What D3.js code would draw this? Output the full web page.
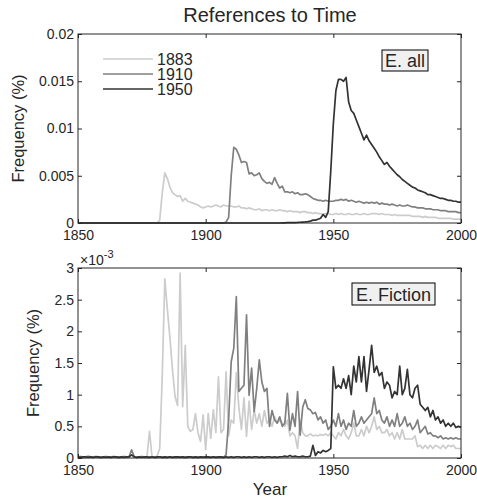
<!DOCTYPE html>
<html>
<head>
<meta charset="utf-8">
<script src="https://cdn.jsdelivr.net/npm/d3@7"></script>
<style>
  body { margin: 0; background: #fff; }
  text { font-family: "Liberation Sans", Arial, Helvetica, sans-serif; fill: #262626; }
</style>
</head>
<body>
<svg id="chart" width="477" height="499"></svg>
<script>
// years on the x axis, one value per year (1850 .. 2000)
var years = d3.range(1850, 2001);
var seriesNames = ["1883", "1910", "1950"];

// English (all), values in units of 1e-3 %
var allS1883 = [
  0,0,0,0,0,0,0,0,0,0, 0,0,0,0,0,0,0,0,0,0, 0,0,0,0,0,0,0,0,0,0, 0,0,
  0.3,3.2,5.3,4.7,3.8,3.2,3.0,2.8,2.9,2.3,2.6,2.3,2.2,2.1,2.0,1.9,1.7,1.6,
  1.7,1.8,1.7,1.8,1.9,1.8,1.7,1.9,1.8,1.8,
  1.8,1.7,1.7,1.8,1.6,1.6,1.5,1.6,1.5,1.4,
  1.4,1.5,1.3,1.4,1.4,1.3,1.4,1.3,1.3,1.4,
  1.3,1.3,1.2,1.3,1.2,1.2,1.2,1.1,1.2,1.2,
  1.1,1.1,1.0,1.1,1.0,1.0,0.9,1.0,1.0,0.9,
  0.9,1.0,0.9,1.0,0.9,0.9,1.0,0.9,0.9,1.0,
  0.9,0.9,1.0,0.9,0.9,1.0,1.0,1.0,0.9,1.0,
  0.9,0.9,0.9,0.8,0.9,0.8,0.8,0.8,0.8,0.8,
  0.8,0.7,0.7,0.7,0.7,0.6,0.7,0.6,0.6,0.6,
  0.6,0.5,0.5,0.5,0.5,0.5,0.5,0.4,0.4,0.4,
  0.4];
var allS1910 = [
  0,0,0,0,0,0,0,0,0,0, 0,0,0,0,0,0,0,0,0,0, 0,0,0,0,0,0,0,0,0,0,
  0,0,0,0,0,0,0,0,0,0, 0,0,0,0,0,0,0,0,0,0, 0,0,0,0,0,0,0,0,
  0.1,0.6,
  5.0,8.0,7.8,7.2,6.4,6.5,6.4,5.2,5.3,5.0,
  5.1,5.3,4.7,4.4,4.2,4.3,4.1,4.8,4.2,3.7,
  3.9,3.3,3.3,3.2,3.3,3.1,3.2,3.0,3.0,3.1,
  3.0,2.8,2.6,2.5,2.4,2.4,2.3,2.4,2.3,2.3,
  2.3,2.4,2.4,2.5,2.4,2.5,2.3,2.4,2.3,2.2,
  2.3,2.2,2.1,2.2,2.1,2.2,2.1,2.2,2.0,2.1,
  2.0,2.0,1.9,2.0,1.9,1.8,1.9,1.8,1.8,1.9,
  1.8,1.7,1.7,1.6,1.6,1.6,1.5,1.5,1.5,1.4,
  1.4,1.4,1.3,1.3,1.3,1.2,1.2,1.2,1.2,1.1,
  1.1];
var allS1950 = [
  0,0,0,0,0,0,0,0,0,0, 0,0,0,0,0,0,0,0,0,0, 0,0,0,0,0,0,0,0,0,0, 0,0,0,0,0,0,0,0,0,0,
  0,0,0,0,0,0,0,0,0,0, 0,0,0,0,0,0,0,0,0,0, 0,0,0,0,0,0,0,0,0,0, 0,0,0,0,0,0,0,0,0,0,
  0.02,0.02,0.03,0.03,0.04,0.05,0.06,0.08,0.1,0.12,
  0.15,0.2,0.3,0.3,0.4,0.5,0.9,0.6,1.2,5.5,
  10.5,14.0,15.2,15.2,15.0,15.4,12.8,11.9,11.6,10.9,
  10.2,9.5,8.8,9.3,8.7,8.3,7.9,7.5,7.0,6.6,
  6.2,6.4,6.0,5.7,5.4,5.1,4.9,4.6,4.4,4.2,
  4.0,3.8,3.7,3.5,3.4,3.3,3.2,3.0,3.0,2.9,
  2.8,2.7,2.6,2.6,2.5,2.4,2.4,2.3,2.3,2.2,
  2.2];

// English fiction, values in units of 1e-3 %
var ficS1883 = [
  0.02,0.03,0.01,0.02,0.04,0.02,0.01,0.03,0.02,0.01,
  0.02,0.03,0.01,0.02,0.03,0.02,0.01,0.02,0.03,0.02,
  0.02,0.05,0.02,0.01,0.02,0.03,0.01,0.02,0.42,0.02,
  0.01,0.03,0.15,1.3,2.83,2.35,1.9,1.4,0.97,0.83,
  2.92,0.81,1.78,0.5,0.42,0.45,0.7,0.4,0.26,0.68,
  0.13,0.7,0.31,0.76,0.4,1.28,0.4,0.45,1.36,0.35,
  0.6,0.55,1.35,0.8,0.45,0.95,0.34,0.9,0.45,0.75,
  0.55,0.7,0.5,0.75,0.55,0.6,0.5,0.65,0.55,0.6,
  0.55,0.5,0.6,0.35,0.4,0.35,0.15,0.6,0.4,0.35,
  0.35,0.38,0.35,0.36,0.35,0.37,0.36,0.38,0.35,0.4,
  0.35,0.3,0.4,0.35,0.45,0.35,0.3,0.4,0.55,0.35,
  0.35,0.45,0.35,0.5,0.4,0.5,0.65,0.45,0.5,0.4,
  0.4,0.45,0.35,0.4,0.3,0.4,0.3,0.45,0.3,0.3,
  0.3,0.3,0.35,0.18,0.2,0.15,0.2,0.15,0.2,0.15,
  0.2,0.18,0.15,0.2,0.15,0.2,0.18,0.2,0.15,0.15,
  0.15];
var ficS1910 = [
  0.01,0.02,0.01,0.01,0.02,0.01,0.01,0.02,0.01,0.01,
  0.01,0.02,0.01,0.01,0.02,0.01,0.01,0.01,0.02,0.01,
  0.02,0.13,0.02,0.01,0.01,0.02,0.01,0.01,0.01,0.02,
  0.01,0.01,0.02,0.01,0.01,0.01,0.02,0.01,0.01,0.01,
  0.02,0.01,0.01,0.01,0.02,0.01,0.01,0.01,0.01,0.02,
  0.01,0.01,0.01,0.02,0.01,0.01,0.01,0.01,0.05,0.6,
  1.52,1.73,2.55,1.05,1.1,1.15,2.26,0.99,1.42,0.73,
  1.1,1.55,1.2,1.05,1.1,0.5,0.75,0.6,0.55,0.65,
  0.5,0.55,1.02,0.44,0.7,0.5,1.05,0.36,0.8,0.92,
  0.78,0.76,0.7,0.72,0.6,0.65,0.55,0.6,0.45,0.5,
  0.6,0.5,0.7,0.5,0.6,0.45,0.55,0.5,0.75,0.5,
  0.55,0.65,0.55,0.6,0.65,0.7,0.95,0.7,0.75,0.6,
  0.55,0.65,0.5,0.6,0.5,0.7,0.5,0.55,0.65,0.5,
  0.55,0.45,0.5,0.6,0.4,0.45,0.5,0.38,0.4,0.35,
  0.35,0.32,0.35,0.3,0.32,0.3,0.32,0.3,0.32,0.3,
  0.3];
var ficS1950 = [
  0.02,0.01,0.02,0.02,0.01,0.02,0.01,0.02,0.02,0.01,
  0.02,0.01,0.02,0.01,0.02,0.02,0.01,0.02,0.01,0.02,
  0.02,0.05,0.02,0.01,0.02,0.01,0.02,0.02,0.01,0.02,
  0.01,0.02,0.02,0.01,0.02,0.01,0.02,0.01,0.02,0.02,
  0.01,0.02,0.01,0.02,0.02,0.01,0.02,0.01,0.02,0.01,
  0.02,0.02,0.01,0.02,0.01,0.02,0.02,0.01,0.02,0.01,
  0.02,0.01,0.02,0.02,0.01,0.02,0.01,0.02,0.01,0.02,
  0.02,0.01,0.02,0.01,0.02,0.02,0.01,0.02,0.01,0.02,
  0.02,0.03,0.02,0.04,0.02,0.03,0.02,0.02,0.03,0.02,
  0.02,0.03,0.2,0.04,0.1,0.08,0.12,0.1,0.12,0.15,
  1.44,1.1,1.15,1.1,1.25,1.1,1.3,1.0,1.45,1.2,
  1.6,1.2,1.6,1.05,1.4,1.78,1.35,1.45,1.3,1.35,
  1.1,1.2,1.15,0.95,1.05,1.0,1.45,1.0,1.1,1.4,
  1.0,0.95,1.1,1.15,0.85,0.8,0.75,0.8,0.65,0.75,
  0.6,0.65,0.55,0.6,0.5,0.55,0.5,0.55,0.48,0.5,
  0.48];

var xTicks = [1850, 1900, 1950, 2000];
var topTicks = [0, 5, 10, 15, 20];
var topTickLabels = ["0", "0.005", "0.01", "0.015", "0.02"];
var botTicks = [0, 0.5, 1, 1.5, 2, 2.5, 3];
var botTickLabels = ["0", "0.5", "1", "1.5", "2", "2.5", "3"];

var colors = ["#cccccc", "#808080", "#333333"];
var axisColor = "#262626";

var svg = d3.select("#chart");

var left = 78, right = 461;
var x = d3.scaleLinear().domain([1850, 2000]).range([left, right]);

function drawPanel(top, bottom, yMax, ticks, tickLabels, series, tag, tagBox, labelX) {
  var y = d3.scaleLinear().domain([0, yMax]).range([bottom, top]);
  var g = svg.append("g");

  var line = d3.line()
    .x(function(d, i) { return x(years[i]); })
    .y(function(d) { return y(d); });

  g.selectAll(".series")
    .data(series)
    .enter()
    .append("path")
    .attr("d", function(d) { return line(d); })
    .attr("fill", "none")
    .attr("stroke", function(d, i) { return colors[i]; })
    .attr("stroke-width", 1.7)
    .attr("stroke-linejoin", "round");

  // MATLAB style box with inward ticks on all sides
  g.append("rect")
    .attr("x", left).attr("y", top)
    .attr("width", right - left).attr("height", bottom - top)
    .attr("fill", "none").attr("stroke", axisColor).attr("stroke-width", 1);

  var xb = d3.axisBottom(x).tickValues(xTicks).tickSize(-4).tickPadding(7).tickFormat(d3.format("d"));
  var xt = d3.axisTop(x).tickValues(xTicks).tickSize(-4).tickFormat("");
  var yl = d3.axisLeft(y).tickValues(ticks).tickSize(-4).tickPadding(4)
    .tickFormat(function(d, i) { return tickLabels[i]; });
  var yr = d3.axisRight(y).tickValues(ticks).tickSize(-4).tickFormat("");

  [[xb, "translate(0," + bottom + ")"], [xt, "translate(0," + top + ")"],
   [yl, "translate(" + left + ",0)"], [yr, "translate(" + right + ",0)"]].forEach(function(a) {
    var ax = g.append("g").attr("transform", a[1]).call(a[0]);
    ax.select(".domain").remove();
    ax.selectAll("line").attr("stroke", axisColor);
    ax.selectAll("text").attr("font-size", 14).attr("fill", axisColor)
      .style("font-family", "'Liberation Sans', Arial, sans-serif");
  });

  // corner tag
  g.append("rect")
    .attr("x", tagBox[0]).attr("y", tagBox[1])
    .attr("width", tagBox[2]).attr("height", tagBox[3])
    .attr("fill", "#f0f0f0").attr("stroke", "#000").attr("stroke-width", 1);
  g.append("text")
    .attr("x", tagBox[0] + tagBox[2] / 2).attr("y", tagBox[1] + tagBox[3] / 2 + 6.5)
    .attr("text-anchor", "middle").attr("font-size", 18).attr("fill", "#000")
    .text(tag);

  g.append("text")
    .attr("transform", "translate(" + labelX + "," + ((top + bottom) / 2) + ") rotate(-90)")
    .attr("text-anchor", "middle").attr("font-size", 16.5)
    .text("Frequency (%)");

  return y;
}

drawPanel(34, 223, 20, topTicks, topTickLabels, [allS1883, allS1910, allS1950],
  "E. all", [382, 50, 46, 21], 24);
drawPanel(268, 458, 3, botTicks, botTickLabels, [ficS1883, ficS1910, ficS1950],
  "E. Fiction", [352, 283, 83, 22], 39);

// exponent label of the lower panel
var expo = svg.append("text").attr("x", 80).attr("y", 265).attr("font-size", 14);
expo.append("tspan").text("\u00d710");
expo.append("tspan").attr("dy", -7).attr("font-size", 11).text("-3");

// legend
var legend = svg.selectAll(".legend")
  .data(seriesNames)
  .enter()
  .append("g")
  .attr("class", "legend")
  .attr("transform", function(d, i) { return "translate(103," + (59 + i * 15) + ")"; });
legend.append("line")
  .attr("x1", 0).attr("x2", 50)
  .attr("stroke", function(d, i) { return colors[i]; })
  .attr("stroke-width", 1.7);
legend.append("text")
  .attr("x", 54).attr("y", 6)
  .attr("font-size", 16).attr("fill", "#000")
  .text(function(d) { return d; });

svg.append("text")
  .attr("x", 270).attr("y", 22)
  .attr("text-anchor", "middle").attr("font-size", 20).attr("fill", "#000")
  .text("References to Time");

svg.append("text")
  .attr("x", 270).attr("y", 495)
  .attr("text-anchor", "middle").attr("font-size", 17)
  .text("Year");
</script>
</body>
</html>
